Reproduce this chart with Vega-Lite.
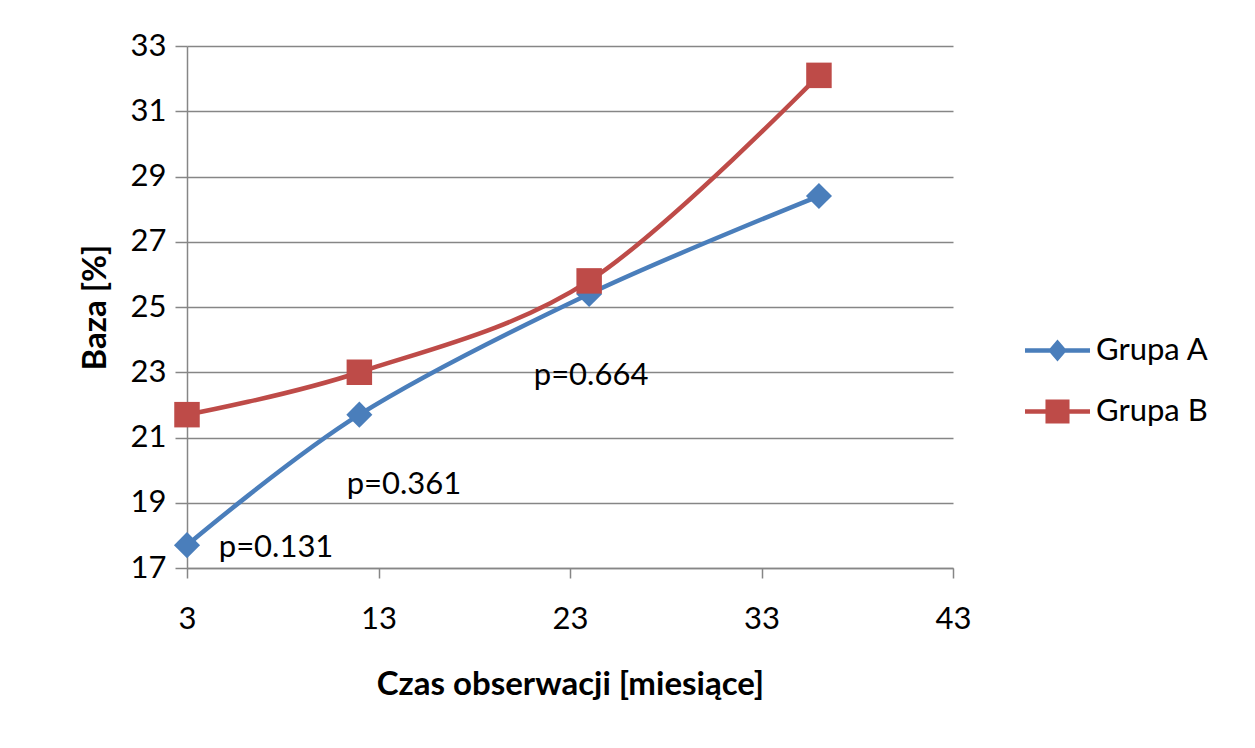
{
  "$schema": "https://vega.github.io/schema/vega-lite/v6.json",
  "width": 766,
  "height": 522,
  "autosize": {"type": "none"},
  "padding": {"left": 187, "top": 46, "right": 302, "bottom": 180},
  "background": "white",
  "config": {
    "font": "Lato",
    "view": {"stroke": null},
    "axis": {
      "domainColor": "#868686",
      "domainWidth": 1.5,
      "tickColor": "#868686",
      "tickWidth": 1.5,
      "gridColor": "#868686",
      "gridWidth": 1.5,
      "labelColor": "#000000",
      "labelFontSize": 31,
      "labelFlush": false,
      "titleColor": "#000000",
      "titleFontSize": 33,
      "titleFontWeight": "bold"
    },
    "legend": {
      "title": null,
      "orient": "none",
      "legendX": 838,
      "legendY": 272,
      "padding": 0,
      "symbolSize": 4225,
      "symbolOpacity": 1,
      "symbolStrokeWidth": 0,
      "rowPadding": 13,
      "labelFontSize": 31,
      "labelColor": "#000000",
      "labelOffset": 6,
      "labelFont": "Lato"
    }
  },
  "datasets": {
    "series": [
      {"miesiac": 3, "baza": 17.7, "grupa": "Grupa A"},
      {"miesiac": 12, "baza": 21.7, "grupa": "Grupa A"},
      {"miesiac": 24, "baza": 25.4, "grupa": "Grupa A"},
      {"miesiac": 36, "baza": 28.4, "grupa": "Grupa A"},
      {"miesiac": 3, "baza": 21.7, "grupa": "Grupa B"},
      {"miesiac": 12, "baza": 23.0, "grupa": "Grupa B"},
      {"miesiac": 24, "baza": 25.8, "grupa": "Grupa B"},
      {"miesiac": 36, "baza": 32.1, "grupa": "Grupa B"}
    ],
    "notes": [
      {"miesiac": 7.65, "baza": 17.61, "label": "p=0.131"},
      {"miesiac": 14.33, "baza": 19.54, "label": "p=0.361"},
      {"miesiac": 24.1, "baza": 22.88, "label": "p=0.664"}
    ]
  },
  "encoding": {
    "x": {
      "field": "miesiac",
      "type": "quantitative",
      "scale": {"domain": [3, 43], "nice": false, "zero": false},
      "axis": {
        "title": "Czas obserwacji [miesiące]",
        "values": [3, 13, 23, 33, 43],
        "grid": false,
        "tickSize": 10,
        "labelPadding": 26,
        "titlePadding": 34
      }
    },
    "y": {
      "field": "baza",
      "type": "quantitative",
      "scale": {"domain": [17, 33], "nice": false, "zero": false},
      "axis": {
        "title": "Baza [%]",
        "values": [17, 19, 21, 23, 25, 27, 29, 31, 33],
        "grid": true,
        "tickSize": 12,
        "labelPadding": 9,
        "titlePadding": 18
      }
    }
  },
  "layer": [
    {
      "data": {"name": "series"},
      "mark": {"type": "line", "interpolate": "cardinal", "strokeWidth": 4.5},
      "encoding": {
        "color": {
          "field": "grupa",
          "type": "nominal",
          "scale": {"domain": ["Grupa A", "Grupa B"], "range": ["#4A7EBB", "#BE4B48"]}
        }
      }
    },
    {
      "data": {"name": "series"},
      "transform": [{"filter": "datum.grupa === 'Grupa A'"}],
      "mark": {"type": "point", "shape": "diamond", "filled": true, "size": 680, "opacity": 1, "color": "#4A7EBB"},
      "encoding": {}
    },
    {
      "data": {"name": "series"},
      "transform": [{"filter": "datum.grupa === 'Grupa B'"}],
      "mark": {"type": "point", "shape": "square", "filled": true, "size": 650, "opacity": 1, "color": "#BE4B48"},
      "encoding": {}
    },
    {
      "data": {"name": "series"},
      "mark": {"type": "point", "filled": true, "opacity": 0},
      "encoding": {
        "shape": {
          "field": "grupa",
          "type": "nominal",
          "scale": {
            "domain": ["Grupa A", "Grupa B"],
            "range": [
              "M-1,-0.07L-0.23,-0.07L0,-0.34L0.23,-0.07L1,-0.07L1,0.07L0.23,0.07L0,0.34L-0.23,0.07L-1,0.07Z",
              "M-1,-0.07L-0.37,-0.07L-0.37,-0.37L0.37,-0.37L0.37,-0.07L1,-0.07L1,0.07L0.37,0.07L0.37,0.37L-0.37,0.37L-0.37,0.07L-1,0.07Z"
            ]
          }
        },
        "color": {
          "field": "grupa",
          "type": "nominal"
        }
      }
    },
    {
      "data": {"name": "notes"},
      "mark": {"type": "text", "fontSize": 31, "color": "#000000", "align": "center", "baseline": "middle"},
      "encoding": {"text": {"field": "label"}}
    }
  ]
}
